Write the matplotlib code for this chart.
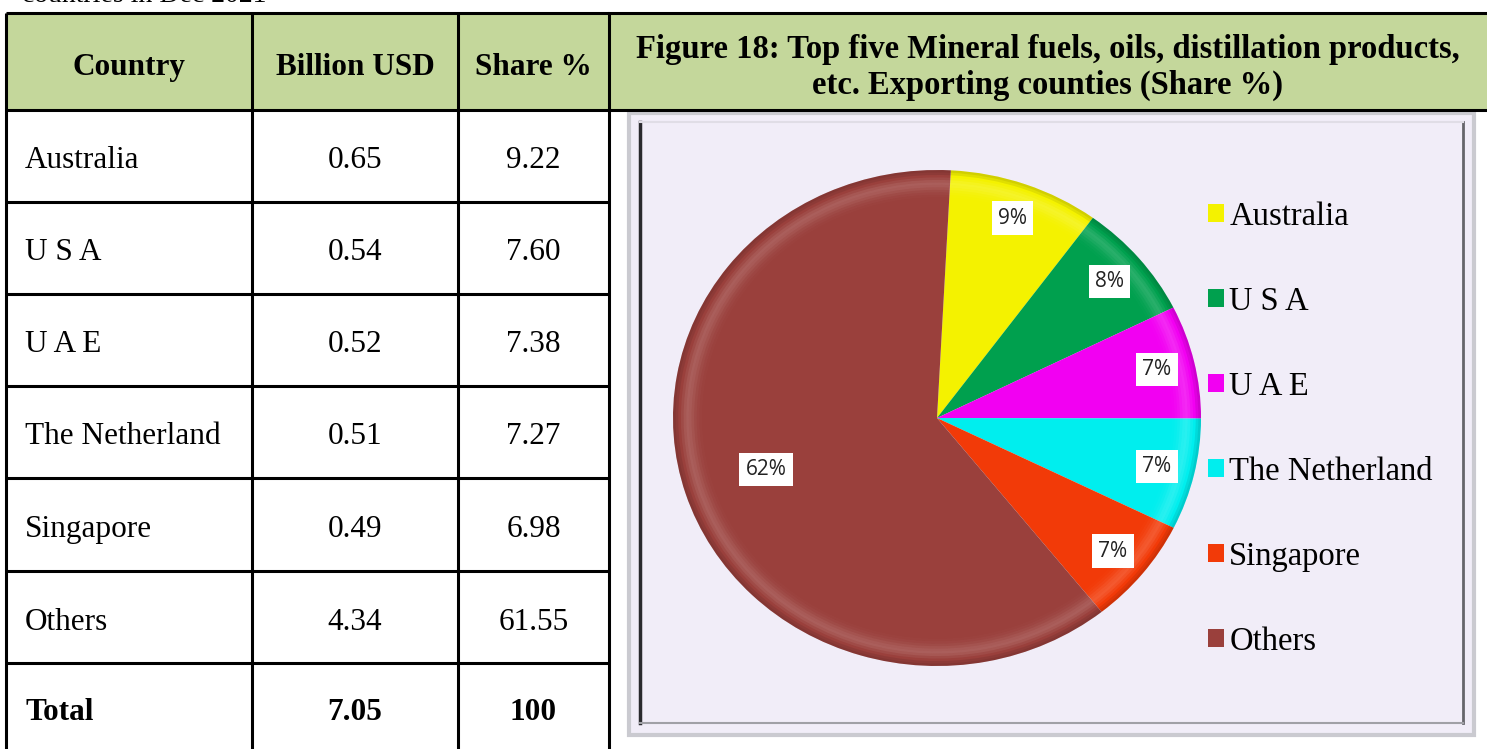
import numpy as np
import matplotlib.pyplot as plt
from matplotlib.patches import Rectangle

# Data
countries = ["Australia", "U S A", "U A E", "The Netherland", "Singapore", "Others"]
billion_usd = ["0.65", "0.54", "0.52", "0.51", "0.49", "4.34"]
share_pct = [9.22, 7.60, 7.38, 7.27, 6.98, 61.55]
share_txt = ["9.22", "7.60", "7.38", "7.27", "6.98", "61.55"]
total_row = ["Total", "7.05", "100"]
headers = ["Country", "Billion USD", "Share %"]
pie_colors = ["#F4F200", "#00A04E", "#F200F2", "#00EEEE", "#F23A08", "#9A403C"]
title = "Figure 18: Top five Mineral fuels, oils, distillation products,\netc. Exporting counties (Share %)"

W, H = 1487, 749
SERIF = "Liberation Serif"
HEADER_GREEN = "#C4D79B"
FS = 22.5

fig = plt.figure(figsize=(W / 100, H / 100), dpi=100)
bg = fig.add_axes([0, 0, 1, 1])
bg.set_xlim(0, W)
bg.set_ylim(H, 0)
bg.axis("off")

# caption line from the page, cut off at the top edge
bg.text(22, 8, "countries in Dec 2021", fontsize=20, family=SERIF, va="bottom")

# table geometry
col_x = [6, 252, 458, 609]
row_y = [13, 110, 202, 294, 386, 478, 571, 663, 760]
lw = 2.2

bg.add_patch(Rectangle((col_x[0], row_y[0]), W - col_x[0], row_y[1] - row_y[0],
                       facecolor=HEADER_GREEN, edgecolor="none"))
for y in row_y[:-1]:
    bg.plot([col_x[0], col_x[-1]], [y, y], color="black", lw=lw, solid_capstyle="butt")
bg.plot([col_x[-1], W], [row_y[0], row_y[0]], color="black", lw=lw)
bg.plot([col_x[-1], W], [row_y[1], row_y[1]], color="black", lw=lw)
for x in col_x:
    bg.plot([x, x], [row_y[0], H], color="black", lw=lw, solid_capstyle="butt")

# header text
hy = (row_y[0] + row_y[1]) / 2 + 6
for i, h in enumerate(headers):
    bg.text((col_x[i] + col_x[i + 1]) / 2, hy, h, fontsize=FS, family=SERIF,
            weight="bold", ha="center", va="center")
bg.text((col_x[-1] + W) / 2, hy, title, fontsize=23.5, family=SERIF,
        weight="bold", ha="center", va="center", linespacing=1.2)

# body rows
rows = list(zip(countries, billion_usd, share_txt)) + [tuple(total_row)]
for r, row in enumerate(rows):
    cy = (row_y[r + 1] + row_y[r + 2]) / 2 + 5
    if r == len(rows) - 1:
        cy = 713
    bold = "bold" if r == len(rows) - 1 else "normal"
    bg.text(col_x[0] + 19, cy, row[0], fontsize=FS, family=SERIF, weight=bold,
            ha="left", va="center")
    for c in (1, 2):
        bg.text((col_x[c] + col_x[c + 1]) / 2, cy, row[c], fontsize=FS,
                family=SERIF, weight=bold, ha="center", va="center")

# chart frame
bg.add_patch(Rectangle((629, 113), 1474 - 629, 735 - 113, facecolor="#F1EDF8",
                       edgecolor="#CACAD0", lw=3))
bg.plot([640, 640], [122, 723], color="#2A2A2E", lw=2.5)
bg.plot([1463, 1463], [122, 723], color="#66666B", lw=2)
bg.plot([640, 1463], [723, 723], color="#A0A0A6", lw=1.5)
bg.plot([640, 1463], [122, 122], color="#E0DDE6", lw=1.5)

# pie
cx, cy, rx, ry = 937, 418, 264, 248
pax = fig.add_axes([(cx - rx) / W, 1 - (cy + ry) / H, 2 * rx / W, 2 * ry / H])
START = 87
wedges, _ = pax.pie(share_pct, colors=pie_colors, startangle=START, counterclock=False,
                    radius=1, frame=True, wedgeprops=dict(linewidth=0))

# soft bevel near the rim: thin rings, light band inside a darker edge
ring_r = [1.0, 0.99, 0.98, 0.97, 0.96, 0.95, 0.94, 0.93, 0.92, 0.91, 0.90]
ring_a = [0.14, 0.08, 0.0, 0.06, 0.12, 0.16, 0.14, 0.10, 0.06, 0.03, 0.01]
for rad, a in zip(ring_r, ring_a):
    col = "black" if rad > 0.985 else "white"
    if a > 0:
        pax.pie(share_pct, colors=[col] * len(share_pct), startangle=START,
                counterclock=False, radius=rad, frame=True,
                wedgeprops=dict(width=0.01, linewidth=0, alpha=a))

for w, v in zip(wedges, share_pct):
    mid = np.deg2rad((w.theta1 + w.theta2) / 2)
    r = 0.68 if v > 50 else 0.855
    pax.text(r * np.cos(mid), r * np.sin(mid), f"{v:.0f}%", fontsize=15,
             family="Open Sans", color="#222222", ha="center", va="center",
             bbox=dict(boxstyle="square,pad=0.3", facecolor="white", edgecolor="none"))

pax.set_aspect("auto")
pax.set_xlim(-1, 1)
pax.set_ylim(-1, 1)
pax.axis("off")

fig.legend(wedges, countries, loc="upper left", bbox_to_anchor=(1195 / W, 1 - 188 / H),
           frameon=False, prop=dict(family=SERIF, size=23.5), handlelength=0.5,
           handleheight=0.5, handletextpad=0.15, labelspacing=1.67, borderaxespad=0)

fig.savefig("out.png", dpi=100)
